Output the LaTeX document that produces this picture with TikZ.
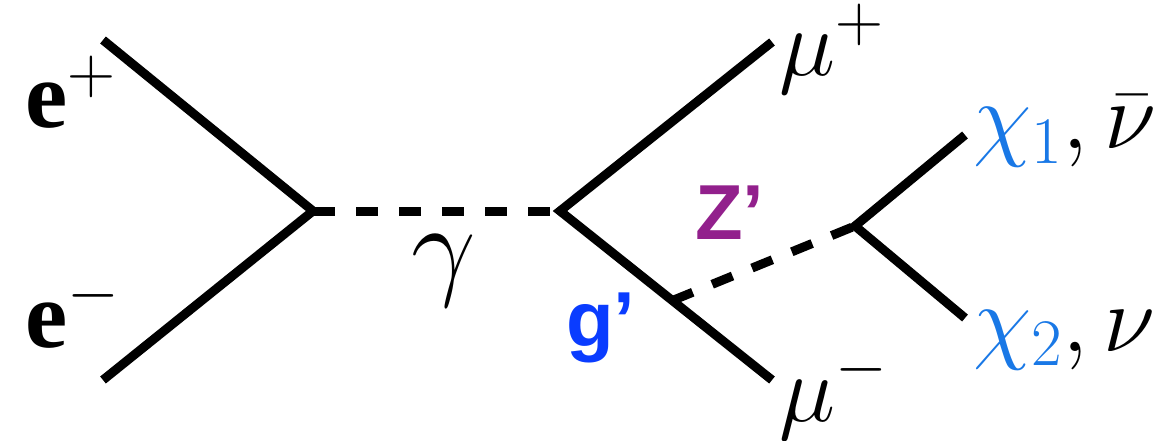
\RequirePackage{fix-cm}
\documentclass[tikz,border=0pt]{standalone}
\usepackage{fontspec}
\setmainfont{Liberation Serif}
\newfontfamily\arialbold[BoldFont=*]{Liberation Sans Bold}
\usepackage{xcolor}
\usetikzlibrary{calc}
\definecolor{zpurple}{RGB}{146,32,140}
\definecolor{gblue}{RGB}{10,60,255}
\definecolor{chiblue}{RGB}{25,120,230}

\begin{document}
\begin{tikzpicture}[x=1pt,y=-1pt,
          fermion/.style={line width=9pt},
          boson/.style={line width=9pt,dash pattern=on 22pt off 21pt},
          lbl/.style={inner sep=0pt,anchor=base west,font=\fontsize{95}{100}\selectfont},
          coup/.style={inner sep=0pt,anchor=base west,font=\fontsize{78}{80}\selectfont\arialbold}]
        \useasboundingbox (0,0) rectangle (1154,441);
        % vertices and free ends
        \coordinate (ep0) at (103,40);
        \coordinate (em0) at (103,380);
        \coordinate (v1)  at (313,211);
        \coordinate (v2)  at (560,211);
        \coordinate (mp0) at (772,42);
        \coordinate (mm0) at (772,380);
        \coordinate (v3)  at (855,226);
        \coordinate (c1)  at (965,135);
        \coordinate (c2)  at (965,318);
        \coordinate (gz)  at ($(v2)!0.53!(mm0)$);
        % lines
        \draw[fermion] (ep0) -- (v1) -- (em0);
        \draw[fermion] (mp0) -- (v2) -- (mm0);
        \draw[fermion] (c1) -- (v3) -- (c2);
        \draw[boson] (v1) -- (v2);
        \draw[boson] (gz) -- (v3);
        % labels
        \node[lbl] (ep)   at (25,128)  {\textbf{e}$^{+}$};
        \node[lbl] (em)   at (25,347)  {\textbf{e}$^{-}$};
        \node[lbl,font=\fontsize{115}{120}\selectfont] (gam) at (411,284) {$\gamma$};
        \node[lbl] (mup)  at (779,76)  {$\mu^{+}$};
        \node[lbl] (mum)  at (779,421) {$\mu^{-}$};
        \node[lbl] (chi1) at (973,149) {$\color{chiblue}\chi_1\color{black},\bar{\nu}$};
        \node[lbl] (chi2) at (973,351) {$\color{chiblue}\chi_2\color{black},\nu$};
        \node[coup,text=zpurple] (zp) at (695,239) {Z’};
        \node[coup,text=gblue]   (gp) at (566,346) {g’};
      \end{tikzpicture}
\end{document}
